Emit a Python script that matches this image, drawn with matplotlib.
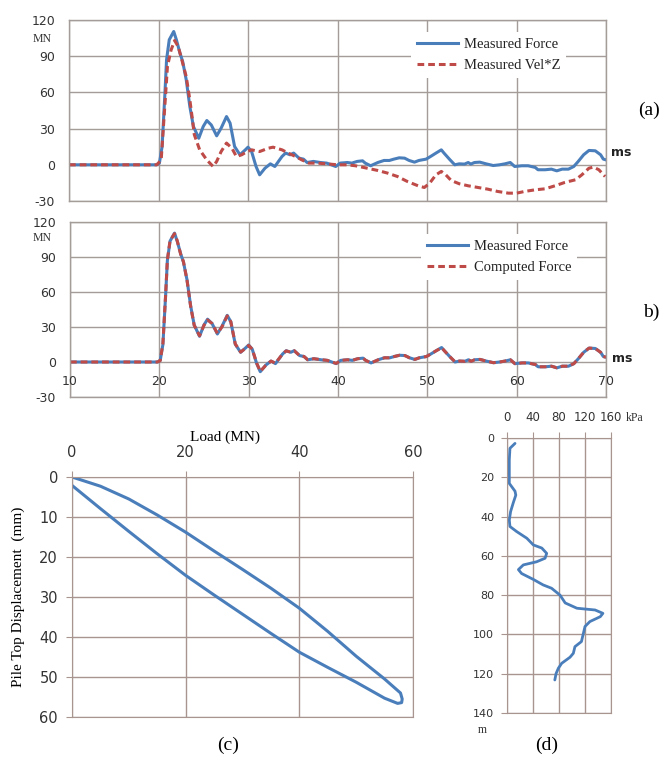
import numpy as np
import matplotlib.pyplot as plt

plt.rcParams['axes.unicode_minus'] = False

# ---- data ----
# (a)/(b) measured force, time in ms, force in MN
force_pts = [(10, 0), (19.8, 0), (20.1, 1.4), (20.4, 15), (20.7, 56.6), (20.9, 87), (21.2, 103.6),
             (21.7, 110.5), (22.0, 103.6), (22.4, 92.5), (22.7, 85.6), (23.1, 70.4), (23.5, 48.3),
             (23.9, 31.8), (24.5, 22), (25.0, 31.8), (25.4, 36.7), (25.9, 33), (26.5, 24), (27.0, 30.4),
             (27.6, 40), (28.0, 34.5), (28.5, 15.2), (29.1, 8.3), (29.7, 12.4), (30.0, 14.6), (30.4, 11),
             (30.9, -1.4), (31.3, -8.3), (31.9, -2.8), (32.5, 0.8), (33.0, -1.4), (33.8, 6.9), (34.2, 9.7),
             (34.7, 8.3), (35.1, 9.7), (35.7, 5.5), (36.2, 4.7), (36.6, 1.9), (37.3, 2.8), (38.1, 1.9),
             (38.8, 1.4), (39.8, -1.4), (40.3, 1.4), (41.1, 1.9), (41.6, 1.4), (42.2, 2.8), (42.8, 3.3),
             (43.1, 1.4), (43.7, -0.8), (44.5, 1.9), (45.2, 3.6), (45.8, 3.6), (46.3, 4.7), (46.9, 5.8),
             (47.5, 5.5), (48.0, 3.6), (48.6, 2.2), (49.1, 3.6), (49.9, 4.7), (50.4, 6.9), (51.0, 9.7),
             (51.6, 12.4), (51.9, 9.7), (52.5, 4.7), (53.1, 0), (53.6, 0.8), (54.2, 0.6), (54.6, 1.9),
             (54.9, 0.6), (55.3, 1.9), (55.9, 2.2), (56.6, 0.8), (57.4, -0.6), (58.1, 0), (58.7, 0.8),
             (59.3, 1.9), (59.8, -1.4), (60.6, -0.8), (61.3, -0.8), (62.1, -2.2), (62.4, -4.1),
             (63.2, -4.1), (63.9, -3.6), (64.5, -5), (65.1, -3.6), (65.8, -3.6), (66.4, -1.4),
             (66.9, 2.8), (67.5, 8.3), (68.1, 11.9), (68.8, 11.6), (69.4, 8.3), (69.7, 4.7), (70.0, 4.1)]

vel_pts = [(10, 0), (19.8, 0), (20.3, 4), (20.7, 48), (21.0, 81.5), (21.4, 95), (21.8, 103), (22.2, 98),
           (22.5, 90), (23.1, 73), (23.5, 54), (23.8, 37), (24.0, 25), (24.6, 12.4), (25.4, 4),
           (26.1, -1.4), (26.5, 2.8), (27.0, 11), (27.6, 18), (28.2, 13.8), (28.7, 6.9), (29.3, 8.3),
           (29.9, 11), (30.4, 12.4), (31.3, 11), (32.3, 13.8), (32.8, 14.6), (33.8, 12.4), (34.5, 9.7),
           (35.3, 6.9), (36.0, 4.1), (36.8, 1.4), (37.7, 1.4), (38.8, 0.8), (40, 0), (41.1, 0),
           (42.0, -0.8), (43.3, -2.8), (44.5, -4.7), (45.6, -6.9), (46.7, -9.7), (47.8, -13.8),
           (49.0, -17.4), (49.7, -18.8), (50.3, -15.2), (51.0, -8.3), (51.6, -5.5), (52.1, -8.3),
           (52.7, -13), (53.6, -15.7), (54.6, -17.4), (55.7, -18.8), (56.8, -20.2), (57.9, -22.1),
           (59.1, -23.5), (60.0, -23.5), (60.9, -22.1), (62.1, -20.7), (63.2, -19.9), (64.3, -17.4),
           (65.4, -14.6), (66.6, -12.4), (67.3, -8.3), (68.1, -2.8), (68.6, -1.9), (69.2, -4.1),
           (69.9, -9.7)]

computed_pts = [(10, 0), (19.8, 0), (20.1, 1.2), (20.4, 16), (20.7, 57), (20.9, 87.5), (21.2, 104),
                (21.7, 110), (22.0, 104), (22.4, 92), (22.7, 86), (23.1, 70), (23.5, 48), (23.9, 31.5),
                (24.5, 22.5), (25.0, 31.5), (25.4, 36), (25.9, 33), (26.5, 24.5), (27.0, 30), (27.6, 39.5),
                (28.0, 34.5), (28.5, 15.5), (29.1, 8.5), (29.7, 12), (30.0, 14.2), (30.4, 11), (30.9, -1),
                (31.3, -8), (31.9, -3), (32.5, 0.8), (33.0, -1), (33.8, 6.9), (34.2, 9.5), (34.7, 8.5),
                (35.1, 9.7), (35.7, 5.5), (36.2, 4.7), (36.6, 2), (37.3, 2.8), (38.1, 2), (38.8, 1.4),
                (39.8, -1.2), (40.3, 1.4), (41.1, 1.9), (41.6, 1.4), (42.2, 2.8), (42.8, 3.3), (43.1, 1.4),
                (43.7, -0.8), (44.5, 1.9), (45.2, 3.6), (45.8, 3.6), (46.3, 4.7), (46.9, 5.8), (47.5, 5.5),
                (48.0, 3.6), (48.6, 2.2), (49.1, 3.6), (49.9, 4.7), (50.4, 6.9), (51.0, 9.7), (51.6, 12.2),
                (51.9, 9.7), (52.5, 4.7), (53.1, 0.2), (53.6, 0.8), (54.2, 0.6), (54.6, 1.9), (54.9, 0.6),
                (55.3, 1.9), (55.9, 2.2), (56.6, 0.8), (57.4, -0.6), (58.1, 0), (58.7, 0.8), (59.3, 1.9),
                (59.8, -1.4), (60.6, -0.8), (61.3, -0.8), (62.1, -2.2), (62.4, -4.1), (63.2, -4.1),
                (63.9, -3.6), (64.5, -5), (65.1, -3.6), (65.8, -3.6), (66.4, -1.4), (66.9, 2.8), (67.5, 8.3),
                (68.1, 11.9), (68.8, 11.6), (69.4, 8.3), (69.7, 4.7), (70.0, 4.1)]

# (c) load-displacement loop
load_c = [0, 5, 10, 15, 20, 25, 30, 35, 40, 45, 50, 55, 57.8, 58.1, 58.0, 57.3, 55, 50, 45, 40,
          35, 30, 25, 20, 15, 10, 5, 0]
disp_c = [0, 2.3, 5.5, 9.5, 13.8, 18.5, 23.1, 27.8, 32.8, 38.6, 44.8, 50.5, 54.0, 55.5, 56.4, 56.6,
          55.3, 51.3, 47.6, 43.8, 39.1, 34.3, 29.5, 24.6, 19.2, 13.6, 7.9, 2.1]

# (d) profile, kPa vs depth (m)
kpa_d = [12.8, 5, 4, 4, 12.8, 14, 10, 6, 4, 5, 15.4, 31, 41, 54, 61.5, 59, 46, 25.6, 18, 23, 41, 56,
         69, 82, 90, 108, 136, 148, 144, 128, 120.5, 118, 115, 105, 102.5, 97.4, 84.6, 79.5, 76, 74]
depth_d = [2.6, 5.1, 11, 23, 27, 29, 33, 37.4, 41.7, 45, 47.6, 51, 54.4, 56, 58.7, 61.2, 63, 64.6, 67,
           69, 72, 74.8, 76.5, 80, 84, 86.7, 87.6, 89.3, 91, 93.5, 96, 99.5, 103.7, 106.3, 109.7, 111.7,
           114.8, 117.3, 120, 123.3]

t_ticks = [10, 20, 30, 40, 50, 60, 70]
f_ticks = [-30, 0, 30, 60, 90, 120]

BLUE = '#4a7ebb'
RED = '#be4b48'
GRID = '#a39c98'
GRID2 = '#a8958f'
TXT = '#333333'
SERIF = 'Liberation Serif'

W, H = 663, 758
fig = plt.figure(figsize=(W / 100, H / 100), dpi=100)


def box(l, t, r, b):
    return [l / W, 1 - b / H, (r - l) / W, (b - t) / H]


def fpos(x, y):
    return x / W, 1 - y / H


def wave_axes(rect, series, labels, styles, legend_at, x_labels):
    ax = fig.add_axes(rect)
    for pts, lab, st in zip(series, labels, styles):
        t, f = zip(*pts)
        ax.plot(t, f, label=lab, **st)
    ax.set_xlim(10, 70)
    ax.set_ylim(-30, 120)
    ax.set_xticks(t_ticks)
    ax.set_yticks(f_ticks)
    ax.grid(True, color=GRID, lw=1)
    ax.set_axisbelow(True)
    for s in ax.spines.values():
        s.set_color(GRID)
        s.set_linewidth(1)
    ax.tick_params(length=0, labelsize=9, labelcolor=TXT, pad=10)
    ax.set_xticklabels([])
    if x_labels:
        for v in t_ticks:
            ax.text(v, -11, str(v), ha='center', va='top', fontsize=9, color=TXT)
    leg = ax.legend(loc='upper left', bbox_to_anchor=fpos(*legend_at),
                    bbox_transform=fig.transFigure, prop={'family': SERIF, 'size': 10.5},
                    frameon=True, fancybox=False, edgecolor='none', facecolor='white',
                    framealpha=1, handlelength=2.8, handletextpad=0.4, labelspacing=0.55,
                    borderpad=0.4, borderaxespad=0)
    for txt in leg.get_texts():
        txt.set_color('#222222')
    return ax


solid = dict(color=BLUE, lw=2.2, solid_joinstyle='round')
dashed = dict(color=RED, lw=2.2, ls=(0, (2.2, 1.3)))

ax_a = wave_axes(box(69, 20, 606, 201), [force_pts, vel_pts],
                 ['Measured Force', 'Measured Vel*Z'], [solid, dashed], (411, 32), False)
ax_b = wave_axes(box(70, 222, 606, 397), [force_pts, computed_pts],
                 ['Measured Force', 'Computed Force'], [solid, dashed], (421, 234), True)

fig.text(*fpos(42, 39), 'MN', family=SERIF, fontsize=8.5, ha='center', va='center', color=TXT)
fig.text(*fpos(42, 238), 'MN', family=SERIF, fontsize=8.5, ha='center', va='center', color=TXT)
fig.text(*fpos(611, 152), 'ms', fontsize=9, weight='bold', ha='left', va='center', color='#222222')
fig.text(*fpos(612, 358), 'ms', fontsize=9, weight='bold', ha='left', va='center', color='#222222')
fig.text(*fpos(649, 110), '(a)', family=SERIF, fontsize=14, ha='center', va='center')
fig.text(*fpos(651, 312), 'b)', family=SERIF, fontsize=14, ha='center', va='center')

# (c)
ax_c = fig.add_axes(box(72, 477, 413, 717))
ax_c.plot(load_c, disp_c, color=BLUE, lw=2.2, solid_joinstyle='round')
ax_c.set_xlim(0, 60)
ax_c.set_ylim(60, 0)
ax_c.set_xticks([0, 20, 40, 60])
ax_c.set_yticks(np.arange(0, 61, 10))
ax_c.xaxis.tick_top()
ax_c.grid(True, color=GRID2, lw=1)
ax_c.set_axisbelow(True)
for s in ax_c.spines.values():
    s.set_color(GRID2)
ax_c.tick_params(length=4, color=GRID2, labelsize=10.5, labelcolor=TXT, pad=6)
ax_c.tick_params(axis='x', pad=8)
ax_c.set_ylabel('Pile Top Displacement  (mm)', family=SERIF, fontsize=11, labelpad=10)
fig.text(*fpos(225, 437), 'Load (MN)', family=SERIF, fontsize=11, ha='center', va='center')
fig.text(*fpos(228, 745), '(c)', family=SERIF, fontsize=14, ha='center', va='center')

# (d)
ax_d = fig.add_axes(box(506.7, 438.3, 610.7, 712.7))
ax_d.plot(kpa_d, depth_d, color=BLUE, lw=2, solid_joinstyle='round', solid_capstyle='round')
ax_d.set_xlim(0, 160)
ax_d.set_ylim(140, 0)
ax_d.set_xticks([0, 40, 80, 120, 160])
ax_d.set_yticks(np.arange(0, 141, 20))
ax_d.xaxis.tick_top()
ax_d.grid(True, color=GRID2, lw=1)
ax_d.set_axisbelow(True)
for s in ax_d.spines.values():
    s.set_color(GRID2)
ax_d.tick_params(length=4, color=GRID2, labelsize=8, labelcolor=TXT, pad=5)
ax_d.tick_params(axis='x', labelsize=8.5, pad=6)
fig.text(*fpos(626, 418), 'kPa', family=SERIF, fontsize=8.5, ha='left', va='center', color=TXT)
fig.text(*fpos(482, 730), 'm', family=SERIF, fontsize=8.5, ha='center', va='center', color=TXT)
fig.text(*fpos(547, 745), '(d)', family=SERIF, fontsize=14, ha='center', va='center')

fig.savefig('out.png', dpi=100, facecolor='white')
